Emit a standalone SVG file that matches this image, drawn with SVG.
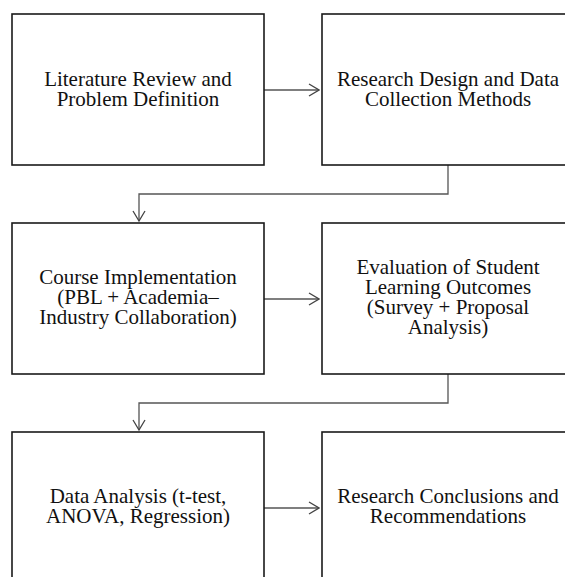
<svg xmlns="http://www.w3.org/2000/svg" width="565" height="577" viewBox="0 0 565 577">
<defs>
<marker id="arr" markerWidth="12" markerHeight="14" refX="11" refY="7" orient="auto" markerUnits="userSpaceOnUse">
<path d="M1,1 L11,7 L1,13" fill="none" stroke="#444" stroke-width="1.3"/>
</marker>
<style>
.box{fill:#fff;stroke:#1a1a1a;stroke-width:1.6}
.lbl{font-family:"Liberation Serif","Times New Roman",serif;font-size:21px;fill:#111;text-anchor:middle}
.con{fill:none;stroke:#555;stroke-width:1.3;marker-end:url(#arr)}
</style>
</defs>
<rect width="565" height="577" fill="#fff"/>
<g id="connectors">
<path class="con" d="M264,90 H319"/>
<path class="con" d="M448,165 V194 H139 V221"/>
<path class="con" d="M264,299 H319"/>
<path class="con" d="M448,374 V403 H139 V430"/>
<path class="con" d="M264,508 H319"/>
</g>
<g id="n1"><rect class="box" x="12" y="14" width="252" height="151"/>
<text class="lbl" x="138" y="86">Literature Review and</text>
<text class="lbl" x="138" y="106">Problem Definition</text></g>
<g id="n2"><rect class="box" x="322" y="14" width="260" height="151"/>
<text class="lbl" x="448" y="86">Research Design and Data</text>
<text class="lbl" x="448" y="106">Collection Methods</text></g>
<g id="n3"><rect class="box" x="12" y="223" width="252" height="151"/>
<text class="lbl" x="138" y="284">Course Implementation</text>
<text class="lbl" x="138" y="304">(PBL + Academia–</text>
<text class="lbl" x="138" y="324">Industry Collaboration)</text></g>
<g id="n4"><rect class="box" x="322" y="223" width="260" height="151"/>
<text class="lbl" x="448" y="274">Evaluation of Student</text>
<text class="lbl" x="448" y="294">Learning Outcomes</text>
<text class="lbl" x="448" y="314">(Survey + Proposal</text>
<text class="lbl" x="448" y="334">Analysis)</text></g>
<g id="n5"><rect class="box" x="12" y="432" width="252" height="160"/>
<text class="lbl" x="138" y="503">Data Analysis (t-test,</text>
<text class="lbl" x="138" y="523">ANOVA, Regression)</text></g>
<g id="n6"><rect class="box" x="322" y="432" width="260" height="160"/>
<text class="lbl" x="448" y="503">Research Conclusions and</text>
<text class="lbl" x="448" y="523">Recommendations</text></g>
</svg>
